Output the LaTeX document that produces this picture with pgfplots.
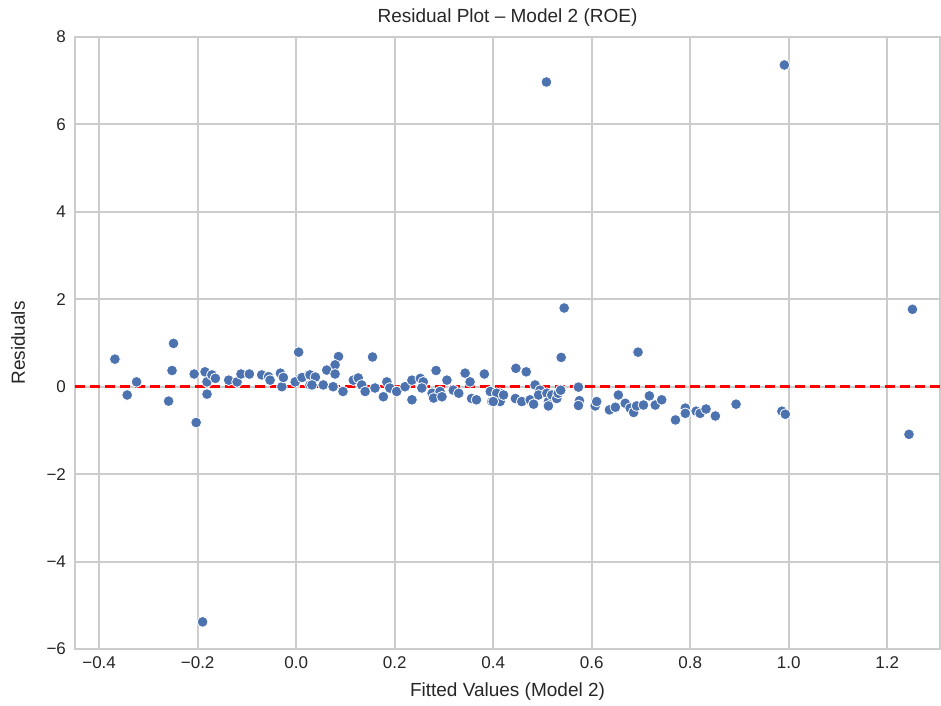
\documentclass[border=0pt]{standalone}
\usepackage{pgfplots}
\pgfplotsset{compat=1.18}
\usepackage{fontspec}
\setmainfont{Liberation Sans}
\definecolor{sbblue}{HTML}{4C72B0}
\definecolor{gridc}{HTML}{CCCCCC}
\definecolor{txt}{HTML}{262626}
\begin{document}
\begin{tikzpicture}
\begin{axis}[
  scale only axis,
  width=432.5pt, height=306pt,
  xmin=-0.449, xmax=1.307, ymin=-6, ymax=8,
  xtick={-0.4,-0.2,0,0.2,0.4,0.6,0.8,1.0,1.2},
  xticklabels={−0.4,−0.2,0.0,0.2,0.4,0.6,0.8,1.0,1.2},
  ytick={-6,-4,-2,0,2,4,6,8},
  yticklabels={−6,−4,−2,0,2,4,6,8},
  tick style={draw=none},
  grid=major,
  major grid style={gridc, line width=1pt},
  axis line style={gridc, line width=1.2pt},
  ticklabel style={font=\fontsize{8.5}{10}\selectfont, text=txt},
  xticklabel style={yshift=-0.5pt},
  yticklabel style={xshift=-1pt},
  label style={font=\fontsize{9.5}{11}\selectfont, text=txt},
  title style={font=\fontsize{9.5}{11}\selectfont, text=txt, at={(axis description cs:0.5,1.0114)}, anchor=center},
  title={Residual Plot – Model 2 (ROE)},
  xlabel={Fitted Values (Model 2)},
  ylabel={Residuals},
  xlabel style={at={(axis description cs:0.5,0)}, anchor=center, yshift=-21.5pt},
  ylabel style={at={(axis description cs:-0.0659,0.5)}, anchor=center},
]
\addplot[only marks, mark=*, mark size=2.7pt, mark options={fill=sbblue, draw=white, line width=0.4pt}] coordinates {
(-0.368,0.63) (-0.343,-0.19) (-0.324,0.11) (-0.249,0.99) (-0.252,0.37) (-0.259,-0.33)
(-0.207,0.29) (-0.203,-0.82) (-0.19,-5.38) (-0.185,0.34) (-0.181,0.11) (-0.171,0.27) (-0.164,0.19)
(-0.181,-0.17) (-0.137,0.15) (-0.12,0.11) (-0.112,0.29) (-0.095,0.29) (-0.07,0.27)
(-0.056,0.23) (-0.053,0.15) (-0.032,0.31) (-0.029,0) (-0.026,0.21) (0.005,0.79)
(0.008,0.19) (-0.002,0.11) (0.025,0.27) (0.028,0.04)
(0.086,0.69) (0.155,0.68) (0.079,0.50) (0.062,0.38) (0.079,0.29) (0.012,0.21)
(0.028,0.27) (0.039,0.22) (0.032,0.04) (0.055,0.04) (0.075,0) (0.095,-0.11)
(0.116,0.15) (0.126,0.2) (0.133,0.04) (0.14,-0.11) (0.16,-0.03) (0.177,-0.23)
(0.184,0.11) (0.19,-0.03) (0.204,-0.11) (0.221,0) (0.235,0.15) (0.235,-0.30)
(0.252,0.19) (0.258,0.11) (0.255,-0.03) (0.276,-0.15) (0.284,0.37) (0.292,-0.11)
(0.279,-0.26) (0.296,-0.23) (0.306,0.15) (0.319,-0.08) (0.33,-0.15) (0.343,0.31)
(0.353,0.11) (0.356,-0.27) (0.366,-0.30) (0.382,0.29) (0.394,-0.11) (0.397,-0.34)
(0.414,-0.15) (0.414,-0.34) (0.407,-0.15) (0.421,-0.19) (0.4,-0.34)
(0.446,0.42) (0.467,0.34) (0.445,-0.27) (0.458,-0.34) (0.475,-0.30) (0.482,-0.40)
(0.485,0.04) (0.495,-0.08) (0.492,-0.19) (0.509,-0.15) (0.512,-0.34) (0.512,-0.44)
(0.519,-0.19) (0.529,-0.27) (0.532,-0.15) (0.537,-0.08)
(0.508,6.97) (0.544,1.80) (0.538,0.67) (0.694,0.79)
(0.573,-0.01) (0.575,-0.32) (0.573,-0.43) (0.607,-0.44) (0.61,-0.34) (0.636,-0.53)
(0.648,-0.47) (0.654,-0.19) (0.668,-0.38) (0.678,-0.49) (0.685,-0.59) (0.691,-0.44)
(0.705,-0.42) (0.717,-0.21) (0.729,-0.42) (0.742,-0.30) (0.77,-0.76) (0.79,-0.49)
(0.79,-0.61) (0.812,-0.56) (0.82,-0.61) (0.832,-0.51) (0.851,-0.67) (0.893,-0.40)
(0.986,-0.56) (0.993,-0.63) (0.991,7.36) (1.251,1.77) (1.244,-1.09)
};
\addplot[red, line width=1.3pt, dash pattern=on 5pt off 2.5pt] coordinates {(-0.449,0) (1.307,0)};
\end{axis}
\pgfresetboundingbox
\path[use as bounding box] ([xshift=-37.5pt,yshift=-28.5pt]current axis.south west) rectangle ([xshift=0.5pt,yshift=18.5pt]current axis.north east);
\end{tikzpicture}
\end{document}
